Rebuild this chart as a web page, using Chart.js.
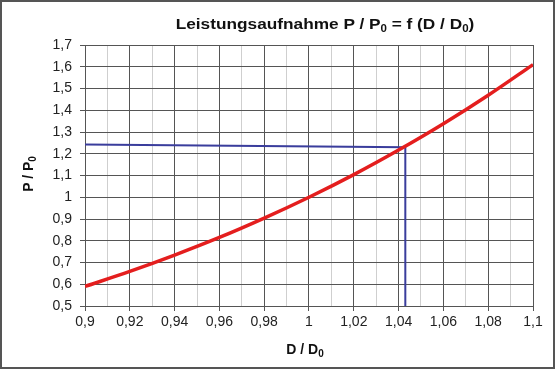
<!DOCTYPE html>
<html>
<head>
<meta charset="utf-8">
<script src="https://cdn.jsdelivr.net/npm/chart.js@4"></script>
<style>
    html, body { margin: 0; padding: 0; background: #fff; }
    #wrap { position: relative; width: 555px; height: 369px; font-family: 'Liberation Sans', Arial, sans-serif; color: #111; }
    #frame { position: absolute; left: 0; top: 0; width: 555px; height: 369px; box-sizing: border-box; border: 2px solid #555; pointer-events: none; }
    .lbl { position: absolute; font-weight: bold; line-height: 1; white-space: nowrap; }
    .lbl .s { font-size: 10px; position: relative; top: 3px; }
    #title { left: 325px; top: 16px; font-size: 15px; transform: translateX(-50%) scaleX(1.15); }
    #xtitle { left: 305px; top: 342px; font-size: 14px; transform: translateX(-50%); }
    #ytitle { left: 28px; top: 174px; font-size: 14px; transform: translate(-50%, -50%) rotate(-90deg); }
</style>
</head>
<body>
<div id="wrap">
    <canvas id="chart" width="555" height="369"></canvas>
    <div class="lbl" id="title">Leistungsaufnahme P / P<span class="s">0</span> = f (D / D<span class="s">0</span>)</div>
    <div class="lbl" id="xtitle">D / D<span class="s">0</span></div>
    <div class="lbl" id="ytitle">P / P<span class="s">0</span></div>
    <div id="frame"></div>
</div>
<script>
// values
const dRatio = [0.9, 0.92, 0.94, 0.96, 0.98, 1.0, 1.02, 1.04, 1.06, 1.08, 1.1];
const pRatio = [0.59, 0.659, 0.734, 0.815, 0.904, 1.0, 1.104, 1.217, 1.338, 1.469, 1.61];

// blue reading line
const markX = [0.9, 1.043, 1.043];
const markY = [1.243, 1.23, 0.5];

const X_MIN = 0.9, X_MAX = 1.1, X_STEP = 0.01;
const Y_MIN = 0.5, Y_MAX = 1.7, Y_STEP = 0.1;

const DARK = '#555';
const LIGHT = '#cfcfcf';
const TICK_FONT = { family: "'Liberation Sans', Arial, sans-serif", size: 14 };

function fmt(v) {
    return String(Math.round(v * 100) / 100).replace('.', ',');
}

function isMinor(v) {
    return Math.round(v * 100) % 2 !== 0;
}

const toPoints = (xs, ys) => xs.map((x, i) => ({ x: x, y: ys[i] }));

new Chart(document.getElementById('chart'), {
    type: 'line',
    data: {
        datasets: [
            {
                data: toPoints(dRatio, pRatio),
                borderColor: '#e41e1e',
                borderWidth: 3.5,
                pointRadius: 0,
                cubicInterpolationMode: 'monotone',
            },
            {
                data: toPoints(markX, markY),
                borderColor: '#3a3d9c',
                borderWidth: 2,
                pointRadius: 0,
                tension: 0,
            },
        ],
    },
    options: {
        responsive: false,
        animation: false,
        devicePixelRatio: 1,
        layout: { padding: { top: 45, right: 22, left: 0, bottom: 0 } },
        plugins: {
            legend: { display: false },
            tooltip: { enabled: false },
        },
        scales: {
            x: {
                type: 'linear',
                min: X_MIN,
                max: X_MAX,
                afterFit: (s) => { s.height = 63; },
                border: { color: DARK, width: 1 },
                grid: {
                    color: (ctx) => (ctx.tick && isMinor(ctx.tick.value) ? LIGHT : DARK),
                    tickColor: (ctx) => (ctx.tick && isMinor(ctx.tick.value) ? 'rgba(0,0,0,0)' : DARK),
                    tickLength: 5,
                },
                ticks: {
                    stepSize: X_STEP,
                    autoSkip: false,
                    maxRotation: 0,
                    padding: 3,
                    color: '#222',
                    font: TICK_FONT,
                    callback: (v) => (isMinor(v) ? '' : fmt(v)),
                },
            },
            y: {
                min: Y_MIN,
                max: Y_MAX,
                afterFit: (s) => { s.width = 85; },
                border: { color: DARK, width: 1 },
                grid: { color: DARK, tickColor: DARK, tickLength: 5 },
                ticks: {
                    stepSize: Y_STEP,
                    padding: 8,
                    color: '#222',
                    font: TICK_FONT,
                    callback: (v) => fmt(v),
                },
            },
        },
    },
});
</script>
</body>
</html>
